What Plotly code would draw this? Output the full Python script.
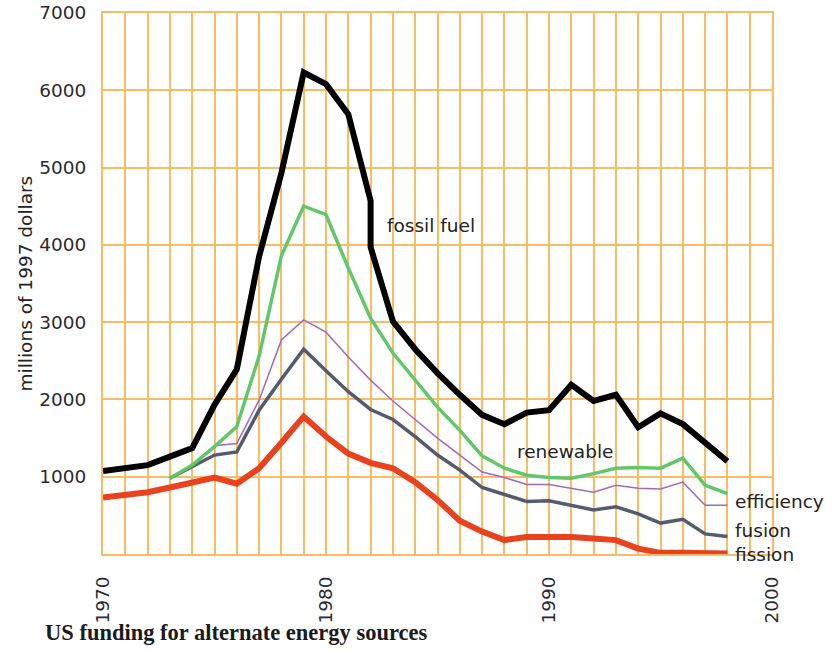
import plotly.graph_objects as go

years = list(range(1970, 1999))
fossil_years = list(range(1970, 1983)) + [1982] + list(range(1983, 1999))
fossil_fuel = [1075, 1110, 1150, 1260, 1370, 1930, 2390, 3850, 4930, 6230, 6080, 5690, 4570,
               3970, 3010, 2650, 2340, 2060, 1800, 1680, 1830, 1860, 2190, 1980, 2060, 1640,
               1820, 1680, 1450, 1200]
sub_years = list(range(1973, 1999))
renewable = [980, 1150, 1390, 1650, 2560, 3860, 4500, 4390, 3700, 3050, 2600, 2250, 1900, 1600,
             1270, 1110, 1020, 990, 980, 1040, 1110, 1120, 1110, 1240, 890, 780]
efficiency = [980, 1150, 1400, 1430, 1990, 2770, 3030, 2870, 2550, 2250, 1980, 1740, 1500, 1280,
              1060, 990, 900, 900, 850, 800, 890, 850, 840, 930, 630, 630]
fusion = [980, 1130, 1280, 1320, 1860, 2260, 2650, 2370, 2100, 1870, 1740, 1520, 1280, 1085,
          860, 770, 680, 690, 630, 570, 610, 520, 400, 450, 260, 225]
fission = [730, 760, 800, 860, 930, 990, 910, 1110, 1440, 1780, 1520, 1300, 1180, 1110, 930, 700,
           430, 290, 180, 220, 220, 220, 200, 180, 70, 15, 15, 10, 5]

label_text = ["fossil fuel", "renewable", "efficiency", "fusion", "fission"]
label_x = [1982.65, 1990.7, 1998.25, 1998.25, 1998.25]
label_y = [4256, 1320, 673, 310, 0]
label_anchor = ["left", "center", "left", "left", "left"]

x_ticks = [1970, 1980, 1990, 2000]
y_ticks = [1000, 2000, 3000, 4000, 5000, 6000, 7000]

FONT = "DejaVu Sans, Verdana"
grid = "#FBBB62"
fig = go.Figure()
fig.add_trace(go.Scatter(x=sub_years, y=efficiency, mode="lines",
                         line=dict(color="#A268BC", width=1.5), showlegend=False))
fig.add_trace(go.Scatter(x=sub_years, y=fusion, mode="lines",
                         line=dict(color="#535C6E", width=3.5), showlegend=False))
fig.add_trace(go.Scatter(x=sub_years, y=renewable, mode="lines",
                         line=dict(color="#62C76A", width=3.5), showlegend=False))
fig.add_trace(go.Scatter(x=years, y=fission, mode="lines",
                         line=dict(color="#E8431E", width=6), showlegend=False))
fig.add_trace(go.Scatter(x=fossil_years, y=fossil_fuel, mode="lines",
                         line=dict(color="#000000", width=6), showlegend=False))

for t, x, y, a in zip(label_text, label_x, label_y, label_anchor):
    fig.add_annotation(x=x, y=y, text=t, showarrow=False, xanchor=a, yanchor="middle",
                       font=dict(family=FONT, size=18.5, color="#222222"))

fig.add_annotation(xref="paper", yref="paper", x=-0.1151, y=0.5, text="millions of 1997 dollars",
                   textangle=-90, showarrow=False, xanchor="center", yanchor="middle",
                   font=dict(family=FONT, size=18.5, color="#222222"))
fig.add_annotation(xref="paper", yref="paper", x=-0.0897, y=-0.1442,
                   text="<b>US funding for alternate energy sources</b>",
                   showarrow=False, xanchor="left", yanchor="middle",
                   font=dict(family="Liberation Serif, Times New Roman", size=22.5, color="#1a1a1a"))

fig.update_layout(
    width=833, height=652,
    margin=dict(l=103, r=61, t=13, b=98, autoexpand=False),
    paper_bgcolor="white", plot_bgcolor="white",
    showlegend=False,
)
fig.update_xaxes(range=[1970, 2000], tickvals=x_ticks, ticktext=[str(v) for v in x_ticks],
                 tickangle=-90, tickfont=dict(family=FONT, size=18.5, color="#2a2a33"),
                 showgrid=True, gridcolor=grid, gridwidth=2,
                 minor=dict(tick0=1970, dtick=1, showgrid=True, gridcolor=grid, gridwidth=2),
                 showline=True, linecolor=grid, linewidth=2, mirror=True, zeroline=False,
                 ticklabelstandoff=13, automargin=False, ticklabeloverflow="allow")
fig.update_yaxes(range=[0, 7000], tickvals=y_ticks, ticktext=[str(v) for v in y_ticks],
                 tickfont=dict(family=FONT, size=18.5, color="#2a2a33"),
                 showgrid=True, gridcolor=grid, gridwidth=2,
                 showline=True, linecolor=grid, linewidth=2, mirror=True, zeroline=False,
                 ticklabelstandoff=11, automargin=False, ticklabeloverflow="allow")

# remove the default 8px page margin so the figure fills the 833x652 window exactly
fig.write_html("out.html", config={"displayModeBar": False},
               post_script="document.body.style.margin='0px';")
